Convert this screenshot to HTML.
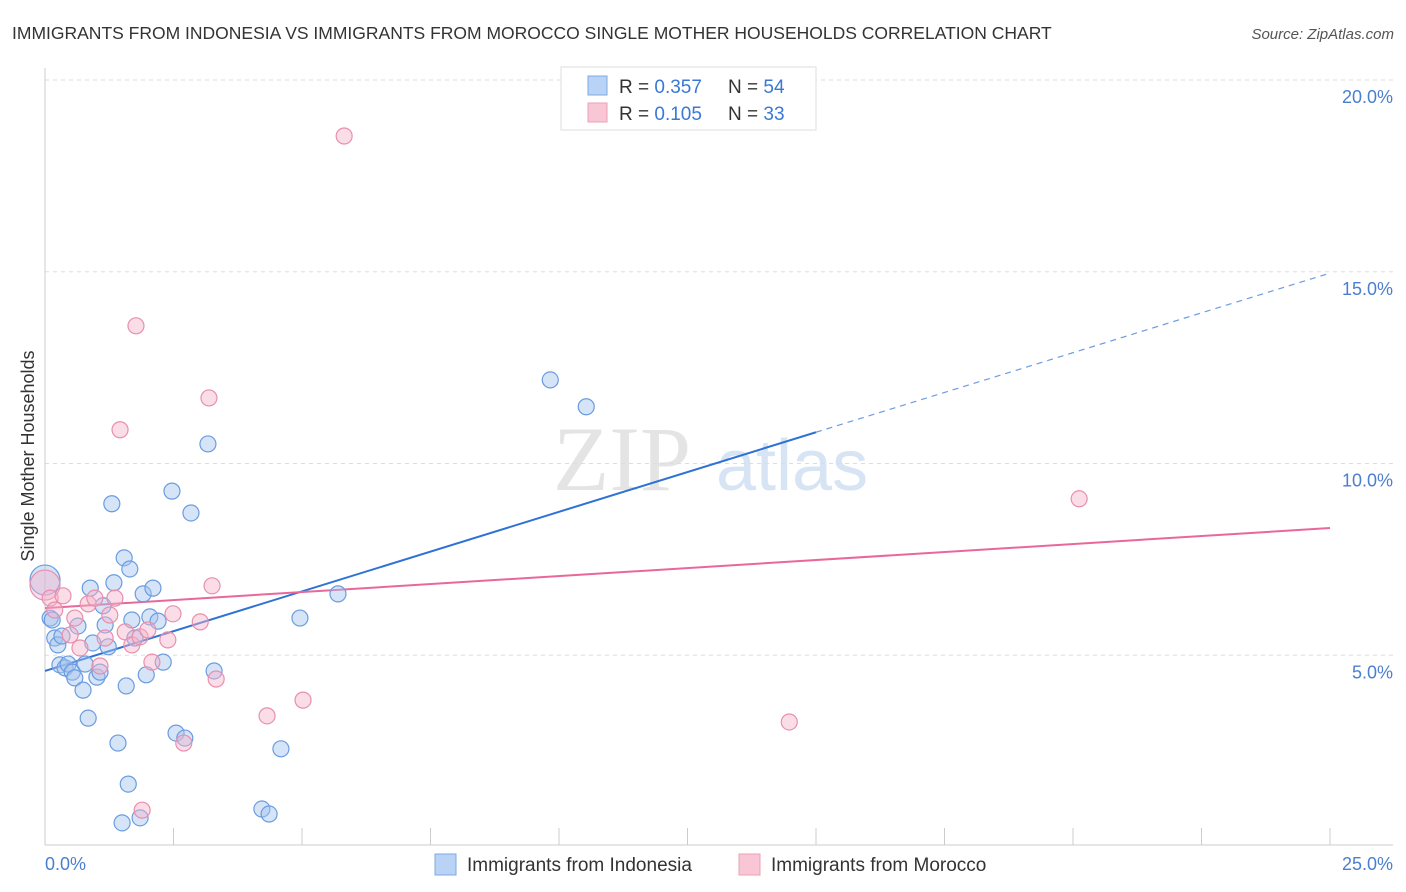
<!DOCTYPE html>
<html><head><meta charset="utf-8"><style>
body{margin:0;background:#fff;font-family:"Liberation Sans",sans-serif;}
svg{display:block}
</style></head><body>
<svg id="chart" width="1406" height="892" viewBox="0 0 1406 892">
<text x="12" y="39" font-size="17.5" fill="#333">IMMIGRANTS FROM INDONESIA VS IMMIGRANTS FROM MOROCCO SINGLE MOTHER HOUSEHOLDS CORRELATION CHART</text>
<text x="1394" y="39" font-size="15" fill="#555" font-style="italic" text-anchor="end">Source: ZipAtlas.com</text>
<g>
<text x="553" y="490" font-size="92" fill="#e4e4e4" font-family="Liberation Serif,serif">ZIP</text>
<text x="716" y="490" font-size="72" fill="#d7e4f4">atlas</text>
</g>
<g id="grid"></g><g id="axes"></g><g id="lines"></g><g id="pts"></g>
<text transform="translate(34,456) rotate(-90)" font-size="18" fill="#333" text-anchor="middle">Single Mother Households</text>
<g>
<rect x="561" y="67" width="255" height="63" fill="#fff" stroke="#ddd"/>
<rect x="588" y="76" width="19" height="19" fill="#b8d3f5" stroke="#7fa8e0"/>
<rect x="588" y="103" width="19" height="19" fill="#f9c6d6" stroke="#eaa0ba"/>
<text x="619" y="93" font-size="19" fill="#333">R = <tspan fill="#3a78d6">0.357</tspan></text>
<text x="728" y="93" font-size="19" fill="#333">N = <tspan fill="#3a78d6">54</tspan></text>
<text x="619" y="120" font-size="19" fill="#333">R = <tspan fill="#3a78d6">0.105</tspan></text>
<text x="728" y="120" font-size="19" fill="#333">N = <tspan fill="#3a78d6">33</tspan></text>
</g>
<g>
<rect x="435" y="854" width="21" height="21" fill="#b8d3f5" stroke="#7fa8e0"/>
<text x="467" y="871" font-size="19" fill="#333">Immigrants from Indonesia</text>
<rect x="739" y="854" width="21" height="21" fill="#f9c6d6" stroke="#eaa0ba"/>
<text x="771" y="871" font-size="19" fill="#333">Immigrants from Morocco</text>
</g>
</svg>
<script>
const yTicks=[5,10,15,20];
const yTickLabels=["5.0%","10.0%","15.0%","20.0%"];
const xTickCount=10;
const xMin=0,xMax=25,yMin=0,yMax=20;
const indonesiaX=[0,0.10,0.14,0.19,0.25,0.33,0.29,0.39,0.45,0.53,0.58,0.64,0.74,0.78,0.84,0.88,0.93,1.01,1.07,1.13,1.17,1.23,1.30,1.34,1.42,1.50,1.54,1.58,1.62,1.65,1.69,1.75,1.85,1.91,1.97,2.04,2.10,2.20,2.30,2.47,2.55,2.72,2.84,3.17,3.29,4.22,4.36,4.59,4.96,5.70,9.83,10.53];
const indonesiaY=[6.96,5.97,5.92,5.45,5.27,5.50,4.75,4.67,4.77,4.56,4.41,5.76,4.09,4.77,3.36,6.75,5.32,4.43,4.56,6.29,5.79,5.22,8.95,6.89,2.71,0.63,7.54,4.20,1.64,7.25,5.92,5.45,0.76,6.60,4.49,6.00,6.75,5.89,4.82,9.28,2.97,2.84,8.71,10.51,4.59,0.99,0.86,2.56,5.97,6.60,12.18,11.48];
const moroccoX=[0,0.10,0.19,0.35,0.49,0.58,0.68,0.84,0.97,1.07,1.17,1.26,1.36,1.46,1.56,1.69,1.77,1.85,1.89,2.00,2.08,2.39,2.49,2.70,3.02,3.19,3.25,3.33,4.32,5.02,5.82,14.48,20.12];
const moroccoY=[6.83,6.49,6.18,6.55,5.53,5.97,5.19,6.34,6.49,4.72,5.45,6.05,6.49,10.88,5.61,5.27,13.59,5.48,0.96,5.66,4.82,5.40,6.08,2.71,5.87,11.71,6.81,4.38,3.42,3.83,18.54,3.26,9.08];
const indonesiaTrend=[4.59,0.415];
const moroccoTrend=[6.23,0.0835];
const X0=45,X1=1330,Y0=847,Y20=80;
const sx=v=>X0+(v-xMin)/(xMax-xMin)*(X1-X0);
const sy=v=>Y0-(v-yMin)/(yMax-yMin)*(Y0-Y20);
const NS="http://www.w3.org/2000/svg";
function mk(tag,attrs,parent){const e=document.createElementNS(NS,tag);for(const k in attrs)e.setAttribute(k,attrs[k]);document.getElementById(parent).appendChild(e);return e;}
yTicks.forEach((t,i)=>{
 const g=mk('line',{x1:X0,x2:1393,y1:sy(t),y2:sy(t),stroke:'#ddd','stroke-dasharray':'4,4'},'grid');
 
 
 const l=mk('text',{x:1393,y:sy(t)+23,'font-size':18,fill:'#4a7fd0','text-anchor':'end'},'axes');
 l.textContent=yTickLabels[i];
 
 
});
const ax=mk('line',{x1:X0,x2:X0,y1:68,y2:845,stroke:'#ccc'},'axes');


const bx=mk('line',{x1:X0,x2:1393,y1:845,y2:845,stroke:'#ccc'},'axes');


for(let i=0;i<=xTickCount;i++){
 const v=xMin+i*(xMax-xMin)/xTickCount;
 const t=mk('line',{x1:sx(v),x2:sx(v),y1:828,y2:845,stroke:'#ccc'},'axes');
 
 
}
const xl0=mk('text',{x:45,y:870,'font-size':18,fill:'#4a7fd0'},'axes');
xl0.textContent=xMin.toFixed(1)+'%';


const xl1=mk('text',{x:1393,y:870,'font-size':18,fill:'#4a7fd0','text-anchor':'end'},'axes');
xl1.textContent=xMax.toFixed(1)+'%';


function pts(xs,ys,fill,stroke,name){
 xs.forEach((x,i)=>{
  const big=(x===0&&i===0);
  const c=mk('circle',{cx:sx(x),cy:sy(ys[i]),r:big?15:8,fill:fill,'fill-opacity':0.45,stroke:stroke,'stroke-width':1.2},'pts');
  
  
 });
}
pts(indonesiaX,indonesiaY,'#a3c4ee','#6b9ce0','indonesia-point');
pts(moroccoX,moroccoY,'#f6b3c9','#e88fae','morocco-point');
const bl=mk('line',{x1:sx(0),y1:sy(indonesiaTrend[0]),x2:sx(15),y2:sy(indonesiaTrend[0]+15*indonesiaTrend[1]),stroke:'#2f72d6','stroke-width':2},'lines');


const bd=mk('line',{x1:sx(15),y1:sy(indonesiaTrend[0]+15*indonesiaTrend[1]),x2:sx(25),y2:sy(indonesiaTrend[0]+25*indonesiaTrend[1]),stroke:'#6b9ce0','stroke-width':1.2,'stroke-dasharray':'6,5'},'lines');


const pl=mk('line',{x1:sx(0),y1:sy(moroccoTrend[0]),x2:sx(25),y2:sy(moroccoTrend[0]+25*moroccoTrend[1]),stroke:'#e8689a','stroke-width':2},'lines');


</script>
</body></html>
